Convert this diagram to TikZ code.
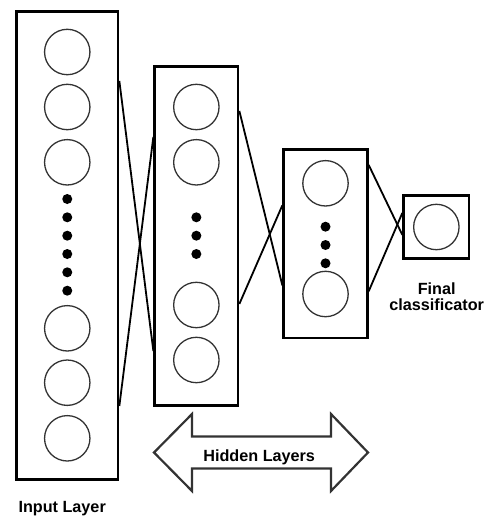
\documentclass[tikz,border=0pt]{standalone}
\usepackage{fontspec}
\setmainfont{Liberation Sans}
\usetikzlibrary{calc}

\begin{document}
\begin{tikzpicture}[x=1pt, y=-1pt,
  layerbox/.style={draw=black, line width=2.7pt, inner sep=0pt},
  neuron/.style={circle, draw=black!80, line width=1.3pt, minimum size=45.4pt, inner sep=0pt},
  ellipsisdot/.style={circle, fill=black, minimum size=10pt, inner sep=0pt},
  link/.style={draw=black, line width=1.8pt},
  bigarrow/.style={draw=black!80, line width=2.2pt, line join=miter},
  caption/.style={font=\fontsize{16.2}{16.5}\selectfont\bfseries, text=black, inner sep=0pt},
]
\useasboundingbox (0,0) rectangle (489,516);

% layer frames
\node[layerbox, minimum width=101.5pt, minimum height=468.2pt] (in)  at (67.25,245.4) {};
\node[layerbox, minimum width=83.3pt,  minimum height=339pt]   (h1)  at (196.35,235.8) {};
\node[layerbox, minimum width=83.6pt,  minimum height=188.3pt] (h2)  at (325.5,243.85) {};
\node[layerbox, minimum width=65.3pt,  minimum height=63.4pt]  (out) at (436.35,227) {};

% input layer neurons
\foreach \y [count=\i] in {52,107,162.3,328.3,382.7,438.3}
  \node[neuron] (in-\i) at (67.25,\y) {};
\foreach \y [count=\i] in {199,217.3,235.7,254,272.3,290.7}
  \node[ellipsisdot] (in-d\i) at (67.25,\y) {};

% first hidden layer
\foreach \y [count=\i] in {107,162.3,305,360}
  \node[neuron] (h1-\i) at (196.35,\y) {};
\foreach \y [count=\i] in {217.3,235.7,254}
  \node[ellipsisdot] (h1-d\i) at (196.35,\y) {};

% second hidden layer
\foreach \y [count=\i] in {183.3,294}
  \node[neuron] (h2-\i) at (325.5,\y) {};
\foreach \y [count=\i] in {226.7,245,263.3}
  \node[ellipsisdot] (h2-d\i) at (325.5,\y) {};

% output neuron
\node[neuron] (out-1) at (436.35,227) {};

% crossing connections between the layer frames
\draw[link] ($(in.north east)+(0,71)$)  -- ($(h1.north west)+(0,286)$);
\draw[link] ($(in.north east)+(0,396)$) -- ($(h1.north west)+(0,72)$);
\draw[link] ($(h1.north east)+(0,46)$)  -- ($(h2.north west)+(0,137)$);
\draw[link] ($(h1.north east)+(0,239)$) -- ($(h2.north west)+(0,57)$);
\draw[link] ($(h2.north east)+(0,16.5)$) -- ($(out.north west)+(0,41)$);
\draw[link] ($(h2.north east)+(0,143)$)  -- ($(out.north west)+(0,19)$);

% double-headed arrow spanning the hidden layers
\draw[bigarrow] (154,452.5) -- (192,414) -- (192,436.5) -- (331,436.5) -- (331,414)
  -- (368,452.5) -- (331,491) -- (331,468.5) -- (192,468.5) -- (192,491) -- cycle;

% labels
\node[caption, anchor=base] (hidden-label) at (259.2,461.5) {Hidden Layers};
\node[caption, anchor=base west] (input-label) at (18.3,512.3) {Input Layer};
\node[caption, align=center] (final-label) at (436.7,296.6) {Final\\classificator};
\end{tikzpicture}
\end{document}
